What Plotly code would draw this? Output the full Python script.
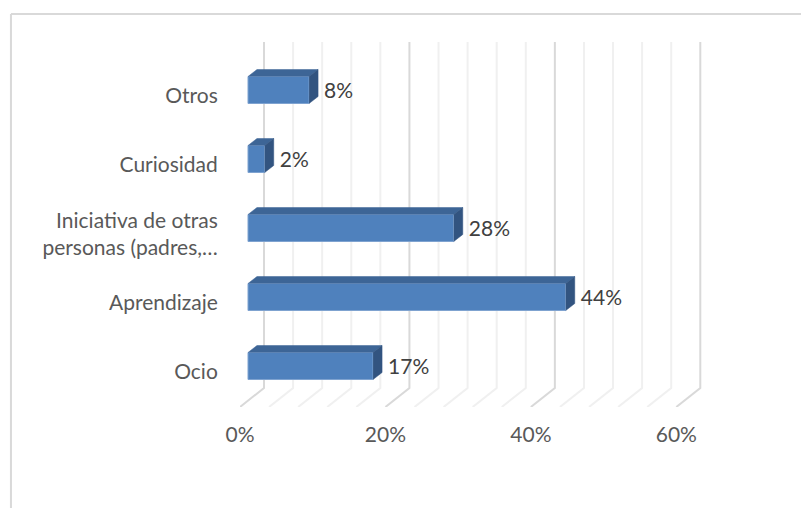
import plotly.graph_objects as go

# datos del grafico
categorias = ["Ocio", "Aprendizaje", "Iniciativa de otras<br>personas (padres,…", "Curiosidad", "Otros"]
valores = [17.2, 43.7, 28.3, 2.3, 8.4]
etiquetas = ["17%", "44%", "28%", "2%", "8%"]
ticks_x = [0, 20, 40, 60]
ticks_x_txt = ["0%", "20%", "40%", "60%"]
rejilla_x = [0, 4, 8, 12, 16, 20, 24, 28, 32, 36, 40, 44, 48, 52, 56, 60]

# escala en pixeles por unidad
PX_X = 7.27
PX_Y = 69.0
# efecto 3D: desplazamientos en unidades de eje
inicio_barra = 8 / PX_X
fondo_x = 9 / PX_X
fondo_y = 7 / PX_Y
alto_barra = 27 / PX_Y
suelo_x = 24 / PX_X
suelo_y = 19 / PX_Y
y_min = -41 / PX_Y
y_max = 324 / PX_Y
pos_y = list(range(len(categorias)))

fig = go.Figure()

# rejilla: pared del fondo y suelo en diagonal (por debajo de las barras)
formas = []
for g in rejilla_x:
    mayor = g in ticks_x
    formas.append(dict(
        type="path", xref="x", yref="y", layer="below",
        path=f"M {g} {y_min} L {g + suelo_x} {y_min + suelo_y} L {g + suelo_x} {y_max}",
        line=dict(color="#d9d9d9" if mayor else "#f0f0f0", width=2),
    ))

# marco exterior
formas.append(dict(type="line", xref="paper", yref="paper", x0=-0.45, x1=1.2, y0=1.077, y1=1.077,
                   line=dict(color="#d9d9d9", width=2)))
formas.append(dict(type="line", xref="paper", yref="paper", x0=-0.45, x1=-0.45, y0=1.077, y1=-0.4,
                   line=dict(color="#d9d9d9", width=2)))

# caras de las barras
for p, v in zip(pos_y, valores):
    fin = inicio_barra + v
    arriba = p + alto_barra / 2
    abajo = p - alto_barra / 2
    # cara superior
    fig.add_trace(go.Scatter(
        x=[inicio_barra, inicio_barra + fondo_x, fin + fondo_x, fin],
        y=[arriba, arriba + fondo_y, arriba + fondo_y, arriba],
        fill="toself", fillcolor="#3d6596", mode="lines",
        line=dict(color="#3d6596", width=0.5), hoverinfo="skip",
    ))
    # cara lateral
    fig.add_trace(go.Scatter(
        x=[fin, fin + fondo_x, fin + fondo_x, fin],
        y=[arriba, arriba + fondo_y, abajo + fondo_y, abajo],
        fill="toself", fillcolor="#325480", mode="lines",
        line=dict(color="#325480", width=0.5), hoverinfo="skip",
    ))

# cara frontal
fig.add_trace(go.Bar(
    x=valores, y=pos_y, base=inicio_barra, orientation="h",
    width=alto_barra,
    marker=dict(color="#4f81bd", line=dict(color="#7fa3d0", width=1)),
))

# etiquetas de datos
fig.add_trace(go.Scatter(
    x=[inicio_barra + v + fondo_x + 6 / PX_X for v in valores],
    y=[p - 3 / PX_Y for p in pos_y],
    text=etiquetas, mode="text", textposition="middle right",
    textfont=dict(family="Lato", size=21, color="#404040"),
))

fig.update_layout(
    width=809, height=508,
    margin=dict(l=232, r=68, t=34, b=109),
    paper_bgcolor="white", plot_bgcolor="rgba(0,0,0,0)",
    showlegend=False, barmode="overlay",
    font=dict(family="Lato", size=21, color="#595959"),
    shapes=formas,
)
fig.update_xaxes(
    range=[0, 70], tickvals=ticks_x, ticktext=ticks_x_txt,
    showgrid=False, zeroline=False, showline=False,
    ticks="outside", ticklen=9, tickcolor="rgba(0,0,0,0)",
)
fig.update_yaxes(
    range=[y_min, y_max], tickvals=pos_y, ticktext=categorias,
    tickfont=dict(size=21),
    showgrid=False, zeroline=False, showline=False,
    ticks="outside", ticklen=17, tickcolor="rgba(0,0,0,0)",
    ticklabelshift=6,
)

fig.write_html("out.html")
